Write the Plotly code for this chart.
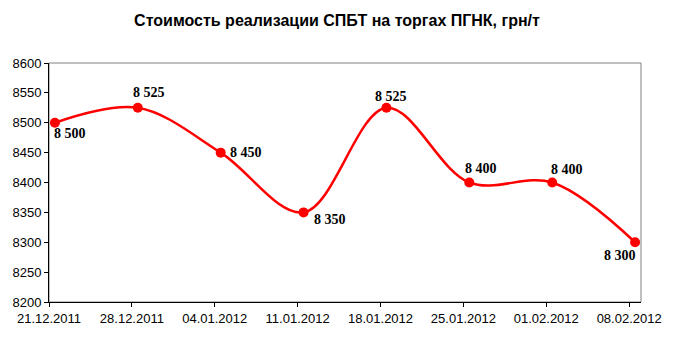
import plotly.graph_objects as go
from datetime import datetime, timedelta

dates = ["2011-12-21", "2011-12-28", "2012-01-04", "2012-01-11",
         "2012-01-18", "2012-01-25", "2012-02-01", "2012-02-08"]
tick_labels = ["21.12.2011", "28.12.2011", "04.01.2012", "11.01.2012",
               "18.01.2012", "25.01.2012", "01.02.2012", "08.02.2012"]
prices = [8500, 8525, 8450, 8350, 8525, 8400, 8400, 8300]
label_dx = [15, 11, 25, 26, 5, 12, 15, -15]
label_dy = [-11, 15, 0, -7, 11, 14, 13, -13]

d = [datetime.strptime(s, "%Y-%m-%d") for s in dates]
# Excel date axis: points centred in their day slot
xs = [t + timedelta(hours=12) for t in d]

fig = go.Figure()
fig.add_trace(go.Scatter(
    x=xs, y=prices, mode="lines+markers",
    line=dict(color="#ff0000", width=2.5, shape="spline", smoothing=1.0),
    marker=dict(color="#ff0000", size=10),
    hoverinfo="skip", showlegend=False,
))

for x, y, dx, dy in zip(xs, prices, label_dx, label_dy):
    fig.add_annotation(
        x=x, y=y, text=f"{y:,}".replace(",", " "), showarrow=False,
        xshift=dx, yshift=dy,
        font=dict(family="Liberation Serif", size=14, color="black", weight="bold"),
    )

fig.add_shape(type="rect", xref="paper", yref="paper", x0=0, y0=0, x1=1, y1=1,
              line=dict(color="#808080", width=1), layer="below")

fig.update_layout(
    width=674, height=344,
    margin=dict(l=47, r=31, t=63, b=42),
    paper_bgcolor="white", plot_bgcolor="white",
    title=dict(text="<b>Стоимость реализации СПБТ на торгах ПГНК, грн/т</b>",
               x=0.5, xanchor="center", y=1 - 20 / 344, yanchor="middle",
               font=dict(family="Liberation Sans", size=16, color="black")),
    xaxis=dict(
        type="date",
        range=[d[0], d[-1] + timedelta(days=1)],
        tickvals=d, ticktext=tick_labels,
        ticks="outside", ticklen=4, tickcolor="black",
        showline=True, linecolor="black", linewidth=1,
        showgrid=False, zeroline=False,
        tickfont=dict(family="Liberation Sans", size=13, color="black"),
    ),
    yaxis=dict(
        range=[8200, 8600], dtick=50, tick0=8200,
        ticks="outside", ticklen=4, tickcolor="black",
        showline=True, linecolor="black", linewidth=1,
        showgrid=False, zeroline=False,
        tickfont=dict(family="Liberation Sans", size=13, color="black"),
    ),
)

fig.write_html("out.html")
